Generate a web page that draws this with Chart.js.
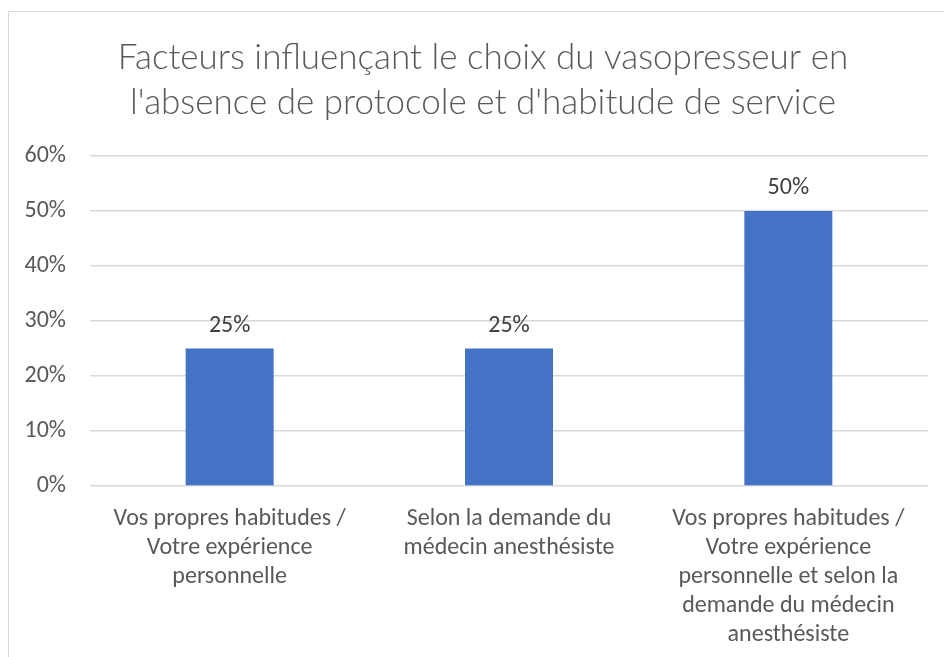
<!DOCTYPE html>
<html lang="fr">
<head>
<meta charset="UTF-8">
<title>Facteurs influençant le choix du vasopresseur</title>
<script src="https://cdn.jsdelivr.net/npm/chart.js"></script>
<style>
  html, body { margin: 0; padding: 0; background: #fff; overflow: hidden; }
  #wrap { position: absolute; left: 0; top: 0; width: 944px; height: 657px; }
  #frame { position: absolute; left: 8px; top: 11px; width: 1000px; height: 700px;
           border: 1px solid #d9d9d9; pointer-events: none; }
</style>
</head>
<body>
<div id="wrap"><canvas id="myChart" width="944" height="657"></canvas></div>
<div id="frame"></div>
<script>
const titleLines = ["Facteurs influençant le choix du vasopresseur en",
                    "l'absence de protocole et d'habitude de service"];
const categories = [
  ["Vos propres habitudes /", "Votre expérience", "personnelle"],
  ["Selon la demande du", "médecin anesthésiste"],
  ["Vos propres habitudes /", "Votre expérience", "personnelle et selon la", "demande du médecin", "anesthésiste"]
];
const values = [25, 25, 50];
const yTicks = [0, 10, 20, 30, 40, 50, 60];

const FONT = 'Carlito, "Liberation Sans Narrow", "Open Sans", sans-serif';
const TITLE_FONT = 'Lato, Carlito, sans-serif';
const GREY = '#595959';

// taille du titre ajustée pour que la première ligne fasse ~730 px
const ctx = document.getElementById('myChart').getContext('2d');
ctx.font = '300 100px ' + TITLE_FONT;
const titleSize = Math.round(730 / ctx.measureText(titleLines[0]).width * 1000) / 10;

// titre centré sur le cadre du graphique (et non sur la zone de tracé)
const frameTitle = {
  id: 'frameTitle',
  afterDraw(chart) {
    const c = chart.ctx;
    c.save();
    c.font = '300 ' + titleSize + 'px ' + TITLE_FONT;
    c.fillStyle = GREY;
    c.textAlign = 'center';
    c.textBaseline = 'middle';
    titleLines.forEach((line, i) => c.fillText(line, 483, 58 + i * 45));
    c.restore();
  }
};

// étiquettes de valeur au-dessus des barres
const barLabels = {
  id: 'barLabels',
  afterDatasetsDraw(chart) {
    const c = chart.ctx;
    const meta = chart.getDatasetMeta(0);
    c.save();
    c.font = '24px ' + FONT;
    c.fillStyle = '#404040';
    c.textAlign = 'center';
    c.textBaseline = 'middle';
    meta.data.forEach((bar, i) => {
      c.fillText(values[i] + '%', bar.x, bar.y - 23);
    });
    c.restore();
  }
};

const chart = new Chart(ctx, {
  type: 'bar',
  data: {
    labels: categories,
    datasets: [{
      data: values,
      backgroundColor: '#4472c4',
      borderWidth: 0,
      barPercentage: 0.63,
      categoryPercentage: 0.5
    }]
  },
  options: {
    responsive: false,
    animation: false,
    layout: { padding: { left: 20, right: 16, top: 156, bottom: 0 } },
    plugins: {
      legend: { display: false },
      tooltip: { enabled: false },
      title: { display: false }
    },
    scales: {
      x: {
        grid: { display: false, drawTicks: false },
        border: { display: false },
        ticks: {
          color: GREY,
          font: { family: FONT, size: 24, lineHeight: 29 / 24 },
          padding: 18,
          maxRotation: 0,
          autoSkip: false
        },
        afterFit(scale) { scale.height = 171; }
      },
      y: {
        min: 0,
        max: 60,
        afterBuildTicks(scale) { scale.ticks = yTicks.map(v => ({ value: v })); },
        grid: { color: '#d9d9d9', lineWidth: 1.5, drawTicks: false },
        border: { display: false },
        ticks: {
          color: GREY,
          font: { family: FONT, size: 24 },
          padding: 24,
          callback: v => v + '%'
        },
        afterFit(scale) { scale.width = 70; }
      }
    }
  },
  plugins: [barLabels, frameTitle]
});
</script>
</body>
</html>
